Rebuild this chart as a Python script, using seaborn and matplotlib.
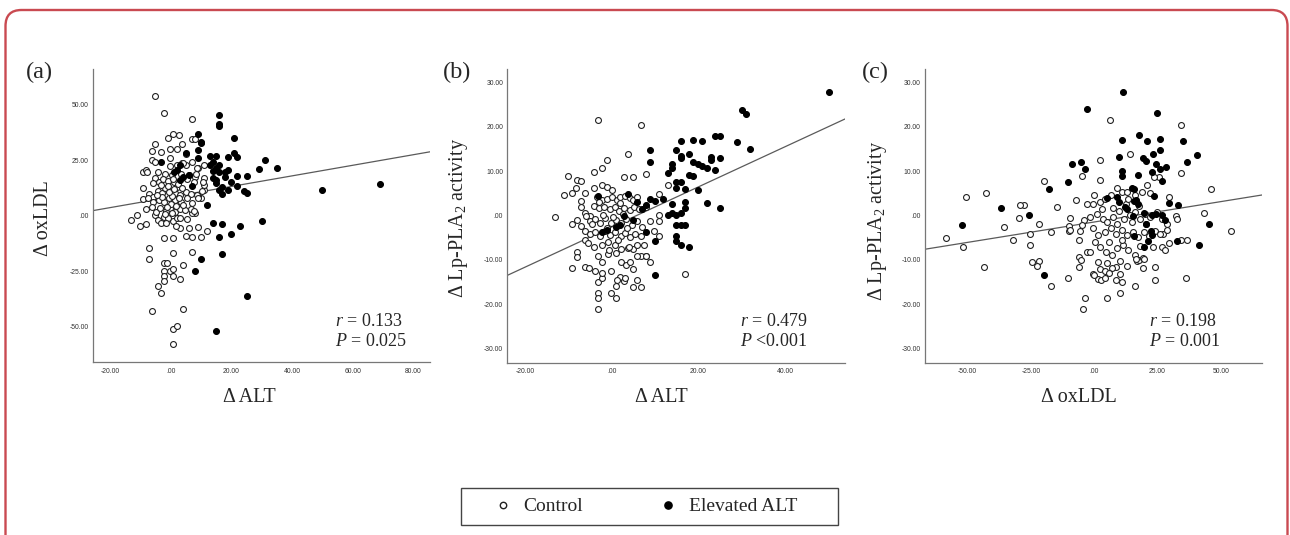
import numpy as np
import matplotlib
matplotlib.use("Agg")
import matplotlib.pyplot as plt
import seaborn as sns
from matplotlib.lines import Line2D
from matplotlib.patches import FancyBboxPatch, Rectangle
from matplotlib.transforms import IdentityTransform

# ---- data: (delta x, delta y) per subject ----
# (a) delta ALT vs delta oxLDL
a_control = [
    (-5.1, 54.2), (-2.1, 46.4), (6.9, 43.5), (0.9, 36.7), (-1.0, 35.1), (2.9, 36.3),
    (-0.1, 30.0), (2.0, 30.0), (-5.1, 32.5), (-6.0, 29.2), (-3.1, 28.8), (3.8, 32.4),
    (7.0, 34.5), (8.0, 34.5), (-6.0, 25.2), (-5.1, 24.1), (-0.1, 25.9), (-9.2, 19.7),
    (-8.2, 20.6), (-9.0, 12.5), (-9.0, 7.5), (-13.1, -1.8), (-11.1, 0.3), (-10.1, -4.5),
    (-8.1, -3.8), (-7.0, -14.5), (-7.0, -19.4), (-2.1, -21.2), (-1.1, -21.5), (-2.1, -25.0),
    (-2.1, -27.4), (-2.1, -29.4), (-0.1, -25.0), (0.9, -24.2), (0.9, -27.4), (3.0, -28.8),
    (4.0, -22.4), (-4.1, -31.8), (-3.1, -35.1), (-6.0, -43.2), (4.0, -42.2), (0.9, -51.4),
    (2.0, -50.0), (0.9, -58.0), (0.9, -16.7), (6.9, -16.6), (-2.1, -9.9), (0.9, -9.9),
    (5.0, -9.2), (6.9, -9.5), (10.0, -9.5), (3.0, -5.6), (5.9, -5.7), (9.0, -5.0),
    (12.0, -7.1), (0.9, -2.4), (2.0, -1.1), (-5.1, 0.3), (-4.1, -2.0), (-3.1, -3.5),
    (-2.1, -0.8), (11.0, 11.6), (10.0, 7.8), (9.0, 9.0), (11.0, 17.2), (11.0, 14.0),
    (9.0, 21.4), (8.0, 17.6), (11.0, 22.9), (5.0, 27.7), (3.8, 23.9), (5.0, 22.9),
    (7.9, 1.1), (6.9, 1.1),
    (-0.2, 22.6), (2.0, 22.9), (4.2, 23.7), (7.0, 24.1), (8.8, 21.6), (-7.9, 19.6),
    (-4.1, 19.6), (-1.9, 18.8), (0.6, 18.4), (3.4, 18.7), (6.0, 18.4), (8.3, 18.7),
    (-5.2, 16.9), (-5.9, 14.9), (-3.9, 15.4), (-2.4, 16.4), (-0.8, 15.7), (1.2, 15.4),
    (5.3, 16.6), (7.7, 15.4), (10.8, 15.1), (-7.0, 9.7), (-5.7, 8.6), (-4.1, 11.2),
    (-3.0, 10.1), (-1.7, 12.4), (-0.2, 11.2), (1.4, 10.1), (3.1, 9.4), (4.9, 10.9),
    (6.7, 9.7), (8.6, 9.4), (10.2, 11.2), (-7.4, 8.1), (-5.7, 6.3), (-3.7, 7.1),
    (-2.1, 6.0), (-0.5, 7.8), (1.4, 7.1), (3.3, 6.0), (5.3, 7.8), (6.9, 5.6),
    (9.1, 7.8), (-8.1, 3.0), (-6.3, 3.9), (-4.8, 1.8), (-3.5, 3.3), (-1.5, 2.1),
    (-0.2, 3.6), (1.4, 1.8), (3.1, 3.0), (4.7, 2.4), (6.6, 3.0), (7.7, 2.1),
    (-0.8, -1.2), (3.1, -0.9), (5.3, -1.5), (-1.0, 13.5), (0.3, 9.0), (2.2, 12.8),
    (-2.8, 8.2), (0.0, 5.2), (1.8, 4.5), (-1.2, 4.0), (2.5, 14.2), (-3.3, 13.8),
    (0.8, 16.5), (-0.5, 10.5), (1.0, 12.0), (3.8, 12.5), (-4.5, 9.5), (2.6, 7.8),
    (4.0, 5.0), (-2.0, 0.8), (0.5, 1.0), (-1.5, -3.5), (1.9, -4.5),
]
a_elevated = [
    (15.9, 45.3), (15.9, 41.3), (15.9, 40.7), (9.0, 36.9), (21.0, 35.1), (10.0, 33.3),
    (10.0, 32.9), (9.0, 29.8), (5.0, 28.2), (9.0, 25.9), (13.1, 27.1), (15.1, 27.0),
    (21.0, 28.3), (22.0, 26.4), (19.0, 26.4), (31.1, 25.2), (-3.1, 24.1), (3.0, 22.9),
    (14.1, 24.4), (16.0, 22.9), (13.1, 22.7), (15.1, 21.7), (29.0, 21.2), (35.1, 21.4),
    (19.0, 20.6), (18.0, 19.6), (16.0, 19.9), (14.1, 20.3), (2.0, 20.6), (1.0, 19.7),
    (5.9, 18.4), (22.0, 18.1), (25.1, 17.8), (14.1, 16.9), (15.1, 16.1), (15.1, 14.9),
    (18.0, 17.3), (20.0, 15.2), (3.0, 16.1), (4.0, 17.3), (6.9, 13.4), (17.0, 12.8),
    (16.0, 11.6), (17.0, 9.8), (19.0, 11.7), (22.0, 13.4), (24.1, 11.1), (25.1, 10.1),
    (50.0, 11.7), (69.1, 14.3), (12.0, 5.0), (14.1, -3.3), (17.0, -3.8), (23.0, -4.7),
    (30.0, -2.4), (16.0, -9.8), (20.0, -8.4), (17.0, -17.3), (10.0, -19.6), (8.0, -25.2),
    (25.1, -36.4), (14.9, -52.0),
]
a_fit = (8.4, 0.239)          # intercept, slope
a_stats = ["$r$ = 0.133", "$P$ = 0.025"]

# (b) delta ALT vs delta Lp-PLA2 activity
b_control = [
    (-3.1, 21.5), (6.8, 20.4), (3.8, 13.8), (-1.2, 12.5), (-2.2, 10.8), (-4.2, 9.8),
    (-10.2, 8.9), (-8.1, 8.0), (-7.1, 7.8), (-8.2, 6.3), (-9.1, 5.2), (-11.1, 4.6),
    (-6.2, 5.2), (-7.1, 3.3), (-7.1, 2.0), (-13.2, -0.4), (-6.2, 0.5), (-5.1, 0.0),
    (-8.1, -1.0), (-9.2, -1.8), (-7.1, -2.3), (-6.1, -3.5), (-6.1, -5.6), (-8.1, -8.3),
    (-8.1, -9.3), (-9.1, -11.9), (-6.2, -11.5), (-5.2, -11.8), (-3.1, -15.0), (-3.1, -17.4),
    (-3.1, -18.6), (-3.1, -21.1), (-2.2, -14.0), (-0.1, -17.4), (0.9, -18.6), (0.9, -15.9),
    (1.9, -13.9), (2.8, -14.7), (4.9, -16.2), (6.8, -16.2), (5.9, -14.5), (4.8, -12.0),
    (8.8, -10.4), (7.8, -9.2), (6.8, -9.2), (5.9, -9.2), (16.9, -13.2), (10.8, -4.7),
    (9.8, -3.5), (10.8, 0.2), (10.8, -1.3), (12.9, 6.8), (10.8, 4.8), (7.8, 9.4),
    (4.8, 8.6), (2.8, 8.8), (4.8, -7.6), (3.8, -7.4),
    (-4.0, 6.2), (-2.2, 6.9), (-1.0, 6.4), (0.0, 5.8), (-3.3, 4.2), (-2.2, 3.5),
    (-1.1, 3.7), (0.0, 4.1), (1.1, 3.5), (2.0, 4.1), (3.1, 4.4), (4.2, 3.9),
    (5.0, 3.5), (5.8, 4.1), (-4.1, 2.2), (-2.9, 1.7), (-1.7, 2.0), (-0.4, 1.4),
    (0.8, 2.0), (1.7, 1.1), (2.9, 1.7), (4.2, 1.3), (5.2, 1.9), (6.3, 1.4),
    (7.8, 2.0), (-6.0, -0.2), (-5.0, -1.3), (-3.8, -0.8), (-2.7, -1.7), (-1.5, -0.6),
    (-0.2, -1.6), (1.0, -1.0), (2.2, -1.7), (3.2, -0.8), (4.6, -2.1), (5.8, -1.3),
    (6.9, -2.6), (8.8, -1.3), (-5.0, -4.1), (-3.9, -3.6), (-2.7, -4.6), (-1.5, -3.4),
    (-0.4, -4.4), (0.8, -3.8), (2.2, -4.7), (3.1, -4.0), (4.2, -4.9), (5.4, -4.1),
    (6.8, -4.6), (-5.4, -6.2), (-4.0, -7.0), (-2.2, -6.6), (-0.9, -5.9), (0.8, -6.6),
    (2.2, -7.6), (3.9, -7.0), (5.8, -6.6), (7.5, -6.6), (-3.2, -9.2), (-2.2, -10.4),
    (-0.9, -8.6), (0.9, -8.5), (2.2, -10.4), (3.2, -11.1), (4.2, -10.4), (7.9, -9.2),
    (-3.8, -12.4), (-2.2, -12.9), (-0.2, -12.6), (1.1, -14.6), (3.1, -14.1),
    (-1.0, -2.8), (0.3, -0.3), (1.5, -5.5), (-2.0, 0.2), (3.5, -2.8), (-4.5, -1.8),
    (2.6, 0.4), (-0.6, -7.8), (1.8, 2.8), (-3.0, 3.0),
]
b_elevated = [
    (50.0, 27.8), (30.0, 23.8), (30.9, 23.0), (31.9, 15.0), (28.9, 16.6), (23.9, 18.0),
    (24.9, 18.0), (24.9, 13.0), (24.9, 1.6), (22.9, 13.1), (22.9, 12.6), (20.9, 11.2),
    (21.9, 10.7), (18.8, 12.0), (19.9, 11.7), (23.9, 10.2), (18.8, 17.1), (20.9, 16.8),
    (15.9, 16.9), (14.9, 14.8), (15.9, 13.5), (15.9, 13.0), (17.9, 13.8), (8.8, 14.8),
    (8.8, 12.0), (13.9, 11.6), (13.9, 10.7), (12.9, 9.6), (14.9, 7.6), (15.9, 7.6),
    (14.9, 6.3), (16.9, 5.9), (17.9, 9.1), (18.8, 8.9), (19.9, 5.8), (21.9, 2.9),
    (16.9, 3.0), (16.9, 1.7), (13.9, 2.5), (12.9, 0.2), (13.9, 0.5), (14.9, 0.1),
    (15.9, 0.5), (14.9, -2.2), (15.9, -2.2), (16.9, -2.2), (14.9, -4.6), (14.9, -5.8),
    (15.9, -6.7), (17.9, -7.1), (11.9, 3.8), (9.9, 3.2), (8.8, 3.8), (7.8, 2.3),
    (5.9, 3.1), (3.8, 4.9), (4.8, -1.0), (7.8, -3.8), (9.9, -5.8), (9.9, -13.5),
    (-3.1, 4.3), (2.8, -0.2), (1.9, -2.1), (0.9, -2.5), (-1.2, -3.2), (-2.2, -3.6),
    (7.0, 1.5),
]
b_fit = (-2.58, 0.453)
b_stats = ["$r$ = 0.479", "$P$ <0.001"]

# (c) delta oxLDL vs delta Lp-PLA2 activity
c_control = [
    (6.1, 21.6), (34.3, 20.5), (14.0, 13.8), (2.2, 12.6), (-4.7, 8.9), (2.4, 8.0),
    (-19.9, 7.8), (34.1, 9.5), (46.2, 5.9), (43.3, 0.5), (54.1, -3.4), (-50.5, 4.2),
    (-42.7, 5.0), (-58.5, -5.0), (-52.0, -7.0), (-43.7, -11.6), (-35.6, -2.6), (-32.3, -5.6),
    (-29.8, -0.5), (-27.8, 2.3), (-29.2, 2.3), (-25.6, -4.1), (-25.6, -6.6), (-24.8, -10.4),
    (-22.0, -10.2), (-22.8, -11.4), (-21.7, -2.0), (-17.1, -3.7), (-17.1, -16.0), (-14.9, 2.0),
    (-10.3, -14.0), (-9.9, -2.4), (-9.9, -3.4), (-9.4, -0.5), (-7.4, 3.5), (-5.7, -3.5),
    (-3.7, -18.6), (-4.6, -21.1), (5.0, -18.6), (10.3, -17.4), (11.0, -15.0), (16.2, -16.0),
    (24.0, -11.7), (24.0, -14.5), (36.2, -14.2), (32.3, 0.0), (32.5, -0.8), (34.3, -5.5),
    (36.6, -5.5), (29.6, -6.3), (26.6, -7.2), (28.1, -7.8), (27.3, -4.1), (28.6, -3.3),
    (28.6, -2.0), (29.6, 4.2), (25.4, 8.7), (23.6, 8.7), (-5.9, -5.6), (-5.9, -9.3),
    (-5.4, -10.1), (-5.9, -11.6), (-2.8, -8.2), (-1.7, -8.2), (-0.4, -13.2), (1.6, -14.4),
    (2.5, -14.6), (4.3, -14.1), (8.4, -11.7), (7.1, -11.9), (2.4, -12.0), (4.3, -12.5),
    (12.8, -11.3), (16.7, -10.2), (17.5, -10.1), (19.4, -9.6), (8.4, -14.6),
    (-0.1, 4.6), (-2.7, 2.5), (-0.6, 2.5), (2.3, 3.1), (4.2, 3.7), (6.5, 4.6),
    (8.8, 6.2), (10.8, 5.3), (13.0, 5.3), (16.1, 4.6), (18.7, 5.3), (20.7, 6.8),
    (22.0, 5.0), (-4.0, -1.1), (-1.7, -0.3), (0.9, 0.4), (3.3, -0.7), (5.2, -1.4),
    (7.5, -0.3), (9.6, 1.0), (11.7, -0.8), (14.1, 0.1), (16.1, 0.7), (18.1, -0.8),
    (20.0, 0.4), (22.2, -0.3), (24.7, 0.8), (26.6, -0.8), (-9.6, -3.3), (-5.0, -2.2),
    (-0.4, -2.9), (1.6, -4.3), (4.2, -3.7), (6.5, -2.8), (8.6, -4.1), (10.8, -3.3),
    (12.8, -4.4), (15.2, -3.7), (17.4, -4.9), (19.6, -3.7), (21.7, -4.6), (23.9, -3.5),
    (25.9, -4.1), (0.3, -5.9), (2.3, -7.1), (4.6, -8.2), (6.9, -8.8), (9.1, -7.4),
    (11.5, -6.6), (13.5, -7.8), (16.1, -8.8), (18.0, -6.8), (19.6, -9.9), (23.3, -7.1),
    (1.6, -10.5), (5.2, -10.8), (10.2, -10.3), (16.5, -9.7), (19.4, -11.8), (-0.1, -13.5),
    (5.9, -12.9), (10.2, -13.1), (7.2, 1.8), (12.5, 2.5), (15.0, -1.5), (9.0, -1.8),
    (3.0, 1.5), (17.5, 2.2), (11.0, -5.5), (6.0, -6.0), (13.5, 3.8), (20.5, -2.0),
]
c_elevated = [
    (11.5, 27.9), (-2.8, 24.0), (24.9, 23.1), (17.5, 18.1), (26.1, 17.2), (20.9, 16.8),
    (11.1, 17.0), (34.9, 16.8), (25.8, 14.9), (23.2, 13.9), (40.6, 13.6), (19.4, 13.0),
    (20.3, 12.2), (9.6, 13.1), (-9.0, 11.7), (-5.1, 12.0), (-3.7, 10.6), (24.5, 11.6),
    (28.2, 11.0), (25.9, 10.6), (11.1, 10.1), (11.1, 8.9), (17.1, 9.2), (22.9, 9.8),
    (36.5, 12.0), (-10.3, 7.6), (26.6, 7.7), (-17.7, 6.0), (14.8, 6.3), (15.5, 5.9),
    (4.9, 4.0), (9.1, 4.2), (15.8, 3.3), (17.4, 2.7), (16.5, 3.5), (12.1, 2.0),
    (12.8, 1.4), (9.7, 3.1), (23.7, 4.4), (29.6, 2.9), (33.2, 2.3), (-36.9, 1.6),
    (-25.7, 0.1), (-52.3, -2.2), (15.4, -0.1), (19.6, 0.5), (22.8, 0.2), (24.2, 0.3),
    (26.9, 0.1), (27.9, -0.9), (20.4, -2.0), (22.3, -3.4), (23.0, -4.4), (15.8, -4.5),
    (21.1, -5.7), (19.5, -7.1), (32.8, -5.7), (41.3, -6.7), (45.2, -2.0), (-19.8, -13.5),
]
c_fit = (-1.45, 0.0919)
c_stats = ["$r$ = 0.198", "$P$ = 0.001"]

# axis ticks and SPSS-style labels
a_xticks = [-20, 0, 20, 40, 60, 80]
a_xticklabels = ["-20.00", ".00", "20.00", "40.00", "60.00", "80.00"]
a_yticks = [-50, -25, 0, 25, 50]
a_yticklabels = ["-50.00", "-25.00", ".00", "25.00", "50.00"]
b_xticks = [-20, 0, 20, 40]
b_xticklabels = ["-20.00", ".00", "20.00", "40.00"]
lp_yticks = [-30, -20, -10, 0, 10, 20, 30]
lp_yticklabels = ["-30.00", "-20.00", "-10.00", ".00", "10.00", "20.00", "30.00"]
c_xticks = [-50, -25, 0, 25, 50]
c_xticklabels = ["-50.00", "-25.00", ".00", "25.00", "50.00"]

legend_labels = ["Control", "Elevated ALT"]

# ---- style ----
sns.set_style("white")
plt.rcParams["font.family"] = ["Liberation Serif", "DejaVu Serif"]
plt.rcParams["mathtext.fontset"] = "custom"
plt.rcParams["mathtext.rm"] = "Liberation Serif"
plt.rcParams["mathtext.it"] = "Liberation Serif:italic"
plt.rcParams["mathtext.bf"] = "Liberation Serif:bold"

W, H = 1290, 535
fig = plt.figure(figsize=(W / 100, H / 100), dpi=100)


def px(x, y):
    # pixel position (from top-left) -> figure fraction
    return x / W, 1 - y / H


def draw_panel(box, control, elevated, fit, xlim, ylim, xt, xtl, yt, ytl):
    left, top, right, bottom = box
    ax = fig.add_axes([left / W, 1 - bottom / H, (right - left) / W, (bottom - top) / H])
    xs = np.array(xlim)
    ax.plot(xs, fit[0] + fit[1] * xs, color="#5a5a5a", lw=0.9, zorder=1)
    cx, cy = zip(*control)
    ex, ey = zip(*elevated)
    sns.scatterplot(x=list(cx), y=list(cy), ax=ax, s=18, color="white",
                    edgecolor="#222222", linewidth=0.8, zorder=2)
    sns.scatterplot(x=list(ex), y=list(ey), ax=ax, s=18, color="black",
                    edgecolor="black", linewidth=0.8, zorder=3)
    ax.set_xlim(xlim)
    ax.set_ylim(ylim)
    ax.set_xticks(xt)
    ax.set_xticklabels(xtl, fontfamily="Liberation Sans")
    ax.set_yticks(yt)
    ax.set_yticklabels(ytl, fontfamily="Liberation Sans")
    ax.tick_params(axis="both", labelsize=4.9, length=2, width=0.6,
                   color="#666666", labelcolor="#333333", direction="out")
    ax.tick_params(axis="x", pad=2)
    ax.tick_params(axis="y", pad=1)
    for side in ["top", "right"]:
        ax.spines[side].set_visible(False)
    for side in ["left", "bottom"]:
        ax.spines[side].set_color("#777777")
        ax.spines[side].set_linewidth(0.9)
    ax.set_facecolor("none")
    return ax


draw_panel((92.7, 69.3, 430, 362), a_control, a_elevated, a_fit,
           (-25.7, 85.5), (-66.1, 66.1), a_xticks, a_xticklabels, a_yticks, a_yticklabels)
draw_panel((507.3, 69.3, 845, 362.7), b_control, b_elevated, b_fit,
           (-24.1, 53.8), (-33.2, 33.0), b_xticks, b_xticklabels, lp_yticks, lp_yticklabels)
draw_panel((925, 69.3, 1262.3, 362.7), c_control, c_elevated, c_fit,
           (-66.9, 66.4), (-33.2, 33.0), c_xticks, c_xticklabels, lp_yticks, lp_yticklabels)

# panel letters
for lab, x in zip(["(a)", "(b)", "(c)"], [26, 442.7, 861.7]):
    fig.text(*px(x, 78.5), lab, fontsize=17.5, ha="left", va="baseline")

# axis titles
ylab = "Δ Lp-PLA$_2$ activity"
fig.text(*px(43, 218), "Δ oxLDL", fontsize=14.5, rotation=90, ha="center", va="center")
fig.text(*px(458, 218), ylab, fontsize=14.5, rotation=90, ha="center", va="center")
fig.text(*px(877, 221), ylab, fontsize=14.5, rotation=90, ha="center", va="center")
fig.text(*px(249, 402), "Δ ALT", fontsize=14.5, ha="center", va="baseline")
fig.text(*px(661, 402), "Δ ALT", fontsize=14.5, ha="center", va="baseline")
fig.text(*px(1079, 402), "Δ oxLDL", fontsize=14.5, ha="center", va="baseline")

# correlation statistics
for stats, x in zip([a_stats, b_stats, c_stats], [335, 740, 1149.3]):
    fig.text(*px(x, 326), stats[0], fontsize=13, ha="left", va="baseline")
    fig.text(*px(x, 346), stats[1], fontsize=13, ha="left", va="baseline")

# legend with square frame
handles = [
    Line2D([], [], ls="none", marker="o", markersize=4.6, markerfacecolor="white",
           markeredgecolor="#222222", markeredgewidth=1.0),
    Line2D([], [], ls="none", marker="o", markersize=5.2, markerfacecolor="black",
           markeredgecolor="black"),
]
fig.legend(handles, legend_labels, loc="center left", bbox_to_anchor=px(493, 506.5),
           ncol=2, frameon=False, fontsize=14, handlelength=1.0, handletextpad=0.55,
           columnspacing=3.9, borderpad=0, borderaxespad=0)
fig.add_artist(Rectangle((461 / W, 10 / H), 377 / W, 37 / H, transform=fig.transFigure,
                         fill=False, edgecolor="#444444", linewidth=1.0))

# rounded red border of the figure card
fig.add_artist(FancyBboxPatch((5.5, -20), 1282, 545,
                              boxstyle="round,pad=0,rounding_size=16",
                              transform=IdentityTransform(), fill=False,
                              edgecolor="#c94a51", linewidth=1.7))

fig.savefig("out.png", dpi=100)
